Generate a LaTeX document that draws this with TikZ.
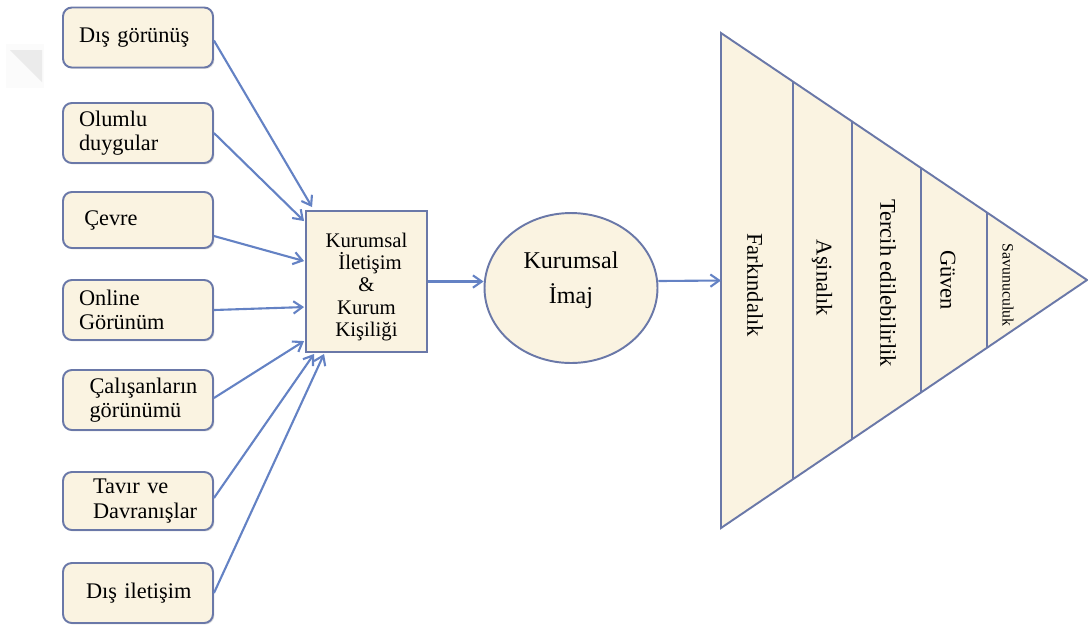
\documentclass[tikz,border=0pt]{standalone}
\usepackage{fontspec}
\setmainfont{Liberation Serif}
\usetikzlibrary{arrows.meta,calc,shadows,shapes.geometric}
\definecolor{cream}{HTML}{FAF3E1}
\definecolor{bordc}{HTML}{6A78A8}
\definecolor{arrc}{HTML}{6482C4}
\tikzset{
  leftbox/.style={draw=bordc, line width=1.1pt, fill=cream, rounded corners=5pt,
    text width=2.36cm, inner xsep=0.32cm, minimum height=1.2cm, align=left,
    font=\fontsize{12.7}{14}\selectfont,
    drop shadow={opacity=0.25, shadow xshift=0.8pt, shadow yshift=-0.8pt}},
  conn/.style={draw=arrc, line width=1.2pt, -{Straight Barb[length=5pt,width=7pt,line width=1.2pt]}},
  layer/.style={font=\fontsize{12.8}{14}\selectfont, rotate=-90},
}
\begin{document}
\begin{tikzpicture}[x=0.02cm,y=-0.02cm]
\useasboundingbox (0,0) rectangle (1088,627);
% faint watermark
\fill[black!1.5] (6,44) rectangle (44,88);
\fill[black!8] (10,50) -- (42,50) -- (42,82) -- cycle;

% left boxes
\node[leftbox] (b1) at (138,37.5) {\raisebox{2pt}{Dış görünüş}};
\node[leftbox] (b2) at (138,133) {Olumlu\\duygular};
\node[leftbox, minimum height=1.12cm] (b3) at (138,220) {\hspace*{3pt}Çevre};
\node[leftbox] (b4) at (138,310) {Online\\Görünüm};
\node[leftbox] (b5) at (138,400) {\mbox{\hspace*{6pt}Çalışanların}\\\mbox{\hspace*{6pt}görünümü}};
\node[leftbox, minimum height=1.16cm] (b6) at (138,501) {\mbox{\hspace*{8pt}Tavır ve}\\\mbox{\hspace*{8pt}Davranışlar}};
\node[leftbox] (b7) at (138,593) {\mbox{\hspace*{4pt}Dış iletişim}};

% central box
\node[draw=bordc, line width=1.1pt, fill=cream, minimum width=2.42cm, minimum height=2.82cm] (ck) at (366.5,281.5) {};
\node[align=center, font=\fontsize{11.8}{12.6}\selectfont] (ckt) at (366.5,287)
  {Kurumsal\\\hspace*{4pt}İletişim\\\&\\Kurum\\Kişiliği};

% ellipse
\node[ellipse, draw=bordc, line width=1.1pt, fill=cream, minimum width=3.46cm, minimum height=3.0cm] (im) at (571,288) {};
\node[align=center, font=\fontsize{13.7}{20}\selectfont] (imt) at (571,280) {Kurumsal\\İmaj};

% triangle
\coordinate (tA) at (721,33);
\coordinate (tB) at (1087,280);
\coordinate (tC) at (721,528);
\fill[cream] (tA) -- (tB) -- (tC) -- cycle;
\draw[bordc, line width=1.1pt] (793,81.6) -- (793,479.2);
\draw[bordc, line width=1.1pt] (852,121.4) -- (852,439.2);
\draw[bordc, line width=1.1pt] (921,168) -- (921,392.5);
\draw[bordc, line width=1.1pt] (987,212.5) -- (987,347.8);
\draw[bordc, line width=1.1pt, line join=miter] (tA) -- (tB) -- (tC) -- cycle;

\node[layer] (l1) at (755,285) {Farkındalık};
\node[layer] (l2) at (822,278) {Aşinalık};
\node[layer] (l3) at (888,283) {Tercih edilebilirlik};
\node[layer] (l4) at (948,280) {Güven};
\node[layer, font=\fontsize{9}{10}\selectfont] (l5) at (1008,285) {Savunuculuk};

% connectors
\draw[conn] ($(b1.east)+(0,3)$) -- ($(ck.north west)+(7,-3)$);
\draw[conn] (b2.east) -- ($(ck.north west)+(-1,11)$);
\draw[conn] ($(b3.east)+(0,16)$) -- ($(ck.north west)+(-1,51)$);
\draw[conn] (b4.east) -- ($(ck.north west)+(-1,97)$);
\draw[conn] ($(b5.east)+(0,-2)$) -- ($(ck.north west)+(-1,131)$);
\draw[conn] ($(b6.east)+(0,-3)$) -- ($(ck.south west)+(9,1)$);
\draw[conn] (b7.east) -- ($(ck.south west)+(19,1)$);
\draw[conn] (ck.east) -- (im.west |- ck.east);
\draw[conn] ($(im.east)+(0,-7)$) -- ($(tA)!0.5!(tC)$);
\end{tikzpicture}
\end{document}
